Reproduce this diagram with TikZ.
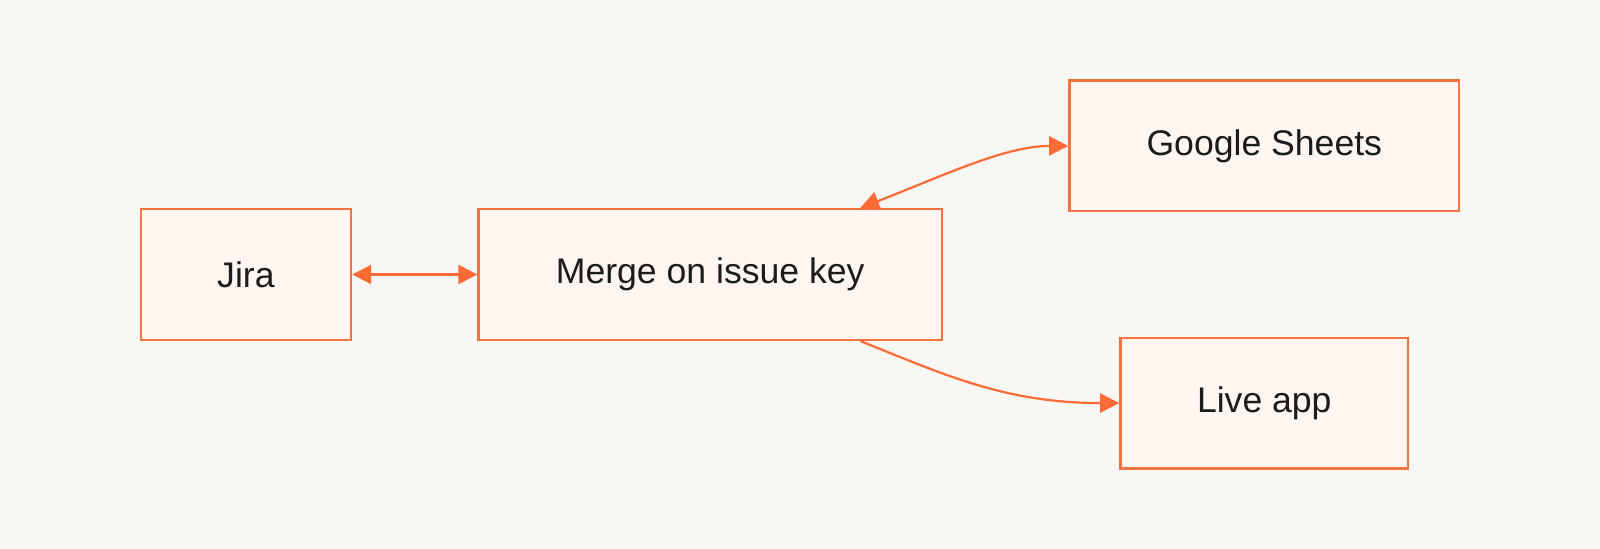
\documentclass[tikz,border=0pt]{standalone}
\usepackage{fontspec}
\setmainfont{Liberation Sans}
\usetikzlibrary{arrows.meta}
\definecolor{bg}{HTML}{F9F7F3}
\definecolor{boxfill}{HTML}{FFF5F1}
\definecolor{boxline}{HTML}{F07442}
\definecolor{arrowc}{HTML}{FF6B35}
\definecolor{txt}{HTML}{1C1C1C}
\tikzset{
  nodebox/.style={draw=boxline, fill=boxfill, line width=1.2pt, inner sep=0pt,
    font=\fontsize{17.8pt}{21pt}\selectfont, text=txt, minimum height=65.3pt},
  conn/.style={draw=arrowc, line width=1.1pt, -{Triangle[length=9.5pt,width=9.5pt]}},
  biconn/.style={draw=arrowc, line width=1.1pt, {Triangle[length=9.5pt,width=9.5pt]}-{Triangle[length=9.5pt,width=9.5pt]}},
}
\newcommand{\lbl}[1]{\raisebox{-1.2pt}{#1}}
\begin{document}
\begin{tikzpicture}[x=0.5102pt,y=-0.5102pt]
\fill[bg] (0,0) rectangle (1568,538);
\useasboundingbox (0,0) rectangle (1568,538);
\node[nodebox, minimum width=105.1pt] (jira) at (241,269) {\lbl{Jira}};
\node[nodebox, minimum width=231.6pt] (merge) at (696,269) {\lbl{Merge on issue key}};
\node[nodebox, minimum width=194.9pt] (sheets) at (1239,143) {\lbl{Google Sheets}};
\node[nodebox, minimum width=143.9pt] (live) at (1239,395) {\lbl{Live app}};
\draw[biconn] (jira.east) -- (merge.west);
\draw[biconn] (merge.north -| 843,0) .. controls (925,172) and (985,143) .. (sheets.west);
\draw[conn] (merge.south -| 843,0) .. controls (925,367) and (985,395) .. (live.west);
\end{tikzpicture}
\end{document}
